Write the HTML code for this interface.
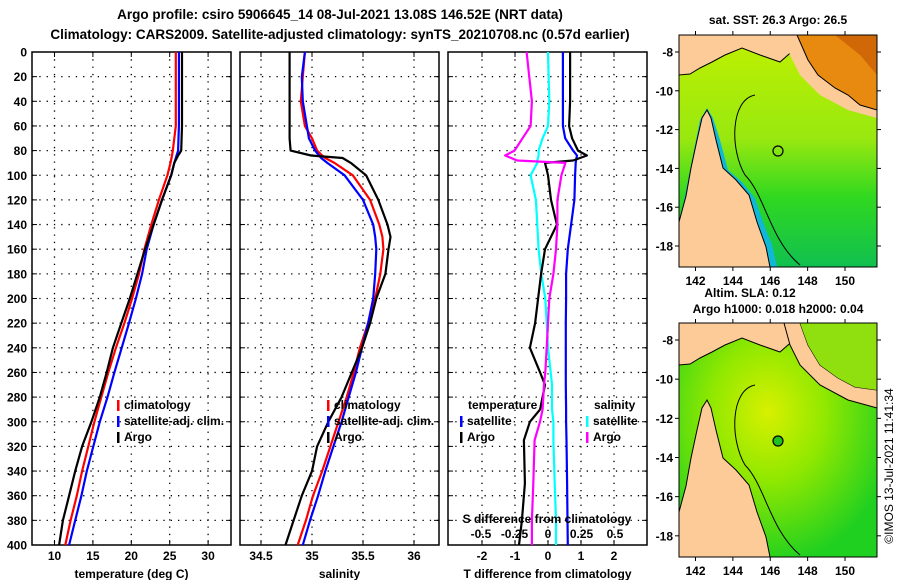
<!DOCTYPE html>
<html><head><meta charset="utf-8"><style>
body{margin:0;background:#fff;width:900px;height:580px;overflow:hidden}
svg{display:block;font-family:"Liberation Sans",sans-serif;font-weight:bold}
</style></head><body>
<svg id="c" width="900" height="580" viewBox="0 0 900 580">
<defs>
<linearGradient id="sstg" x1="0" y1="0" x2="0" y2="1">
<stop offset="0" stop-color="#c0f000"/><stop offset="0.45" stop-color="#98e810"/><stop offset="0.7" stop-color="#30d820"/><stop offset="1" stop-color="#10c050"/></linearGradient>
<radialGradient id="slag" cx="0.45" cy="0.38" r="0.65">
<stop offset="0" stop-color="#d8f000"/><stop offset="0.45" stop-color="#90e800"/><stop offset="1" stop-color="#20d020"/></radialGradient>
</defs>
<text x="340" y="19" font-size="13.5" text-anchor="middle">Argo profile: csiro 5906645_14 08-Jul-2021 13.08S 146.52E (NRT data)</text>
<text x="340" y="39" font-size="13.5" text-anchor="middle">Climatology: CARS2009. Satellite-adjusted climatology: synTS_20210708.nc (0.57d earlier)</text>

<g id="maps">
<g>
<text x="778" y="24" font-size="12" text-anchor="middle">sat. SST: 26.3 Argo: 26.5</text>
<rect x="679" y="35" width="198" height="232" fill="url(#sstg)"/>
<polygon points="679,267 679,225 684,200 690,170 695,145 700,120 707,108 713,118 720,140 728,170 742,182 755,198 763,222 772,245 777,267" fill="#10b8d8"/>
<polygon points="679,267 679,222 686,196 691,168 697,140 702,118 707,110 711,118 716,140 723,168 736,180 749,195 757,222 766,247 770,267" fill="#fdcb98" stroke="#000" stroke-width="1"/>
<polygon points="679,35 790,35 796,48 780,62 760,55 742,48 725,55 712,62 700,68 690,74 679,75" fill="#fdcb98" stroke="#000" stroke-width="1"/>
<polygon points="784,35 877,35 877,118 848,110 820,95 800,75 790,55" fill="#fdcb98"/>
<polygon points="797,35 877,35 877,110 860,105 848,95 835,88 818,75 808,60" fill="#e88a10" stroke="#000" stroke-width="1"/>
<polygon points="835,35 877,35 877,75 860,55" fill="#d06808"/>
<path d="M755,95 C730,100 730,150 745,175 C765,195 770,240 800,265" fill="none" stroke="#000" stroke-width="1"/>
<circle cx="778" cy="151" r="5" fill="none" stroke="#000" stroke-width="1.2"/>
<rect x="679" y="35" width="198" height="232" fill="none" stroke="#000" stroke-width="1"/>
</g>
<g>
<text x="750" y="297" font-size="12" text-anchor="middle">Altim. SLA: 0.12</text>
<text x="778" y="313" font-size="12" text-anchor="middle">Argo h1000: 0.018 h2000: 0.04</text>
<rect x="679" y="323" width="198" height="234" fill="url(#slag)"/>
<g transform="translate(0,290)">
<polygon points="679,267 679,222 686,196 691,168 697,140 702,118 707,110 711,118 716,140 723,168 736,180 749,195 757,222 766,247 770,267" fill="#fdcb98" stroke="#000" stroke-width="1"/>
<polygon points="679,33 790,33 796,48 780,62 760,55 742,48 725,55 712,62 700,68 690,74 679,75" fill="#fdcb98" stroke="#000" stroke-width="1"/>
<polygon points="784,33 800,33 808,55 820,75 838,88 855,97 877,100 877,118 848,110 820,95 800,75 790,55" fill="#fdcb98" stroke="#000" stroke-width="1"/>
<polygon points="800,33 877,33 877,100 855,97 838,88 820,75 808,55" fill="#90e010"/>
<path d="M755,95 C730,100 730,150 745,175 C765,195 770,240 800,265" fill="none" stroke="#000" stroke-width="1"/>
<circle cx="778" cy="151" r="5" fill="#20c020" stroke="#000" stroke-width="1.2"/>
</g>
<rect x="679" y="323" width="198" height="234" fill="none" stroke="#000" stroke-width="1"/>
</g>
<text transform="translate(893,466) rotate(-90)" font-size="12" font-weight="normal" text-anchor="middle">©IMOS 13-Jul-2021 11:41:34</text>
</g>
<g id="plots"></g>
</svg>
<script>
var depthTicks=[0,20,40,60,80,100,120,140,160,180,200,220,240,260,280,300,320,340,360,380,400];
// Temperature panel
var tDepth=[0,60,80,84,90,100,120,140,160,180,200,220,240,260,280,300,320,340,360,380,400];
var tArgo=[26.6,26.6,26.5,26.1,25.6,25.2,24.0,22.9,21.8,20.8,19.8,18.7,17.6,16.8,15.9,14.8,13.6,12.7,11.9,11.1,10.6];
var tClim=[25.8,25.8,25.4,25.3,25.1,24.7,23.6,22.6,21.7,21.0,20.1,19.1,18.0,17.0,16.1,15.2,14.4,13.6,12.9,12.1,11.4];
var tSat=[26.2,26.2,26.1,25.9,25.6,25.2,24.0,22.9,22.0,21.4,20.6,19.7,18.75,17.8,16.9,15.9,15.05,14.2,13.5,12.7,11.9];
var tTicks=[10,15,20,25,30];
// Salinity panel
var sDepth=[0,20,40,60,70,80,84,86,90,100,120,140,150,160,180,200,220,240,260,280,300,320,340,360,380,400];
var sArgo=[34.78,34.78,34.78,34.78,34.78,34.79,34.99,35.30,35.38,35.53,35.65,35.74,35.77,35.75,35.72,35.63,35.57,35.49,35.39,35.29,35.16,35.05,35.0,34.90,34.82,34.74];
var sClim=[34.93,34.91,34.89,34.93,35.0,35.05,35.1,35.13,35.22,35.40,35.57,35.66,35.69,35.70,35.67,35.62,35.55,35.47,35.41,35.34,35.26,35.18,35.10,35.01,34.94,34.86];
var sSat=[34.93,34.90,34.91,34.95,34.97,35.03,35.07,35.09,35.15,35.32,35.50,35.60,35.62,35.63,35.62,35.60,35.55,35.49,35.43,35.36,35.29,35.21,35.13,35.06,34.98,34.91];
var sTicks=[34.5,35,35.5,36];
// Difference panel
var dDepth=[0,40,60,70,80,84,88,90,100,120,140,160,180,200,220,240,260,270,290,300,315,350,380,400];
var dTArgo=[0.67,0.67,0.64,0.73,0.91,1.18,0.76,-0.09,0.0,0.09,0.27,-0.09,-0.21,-0.30,-0.39,-0.55,-0.24,-0.09,-0.24,-0.55,-0.73,-0.70,-0.79,-0.88];
var dTSat=[0.45,0.45,0.45,0.52,0.76,0.88,0.85,0.84,0.82,0.80,0.70,0.60,0.55,0.55,0.54,0.54,0.54,0.54,0.55,0.55,0.56,0.58,0.59,0.60];
var dSArgo=[-0.16,-0.12,-0.13,-0.19,-0.25,-0.32,-0.23,0.13,0.10,0.07,0.07,0.06,0.04,0.01,0.0,-0.01,-0.02,-0.03,-0.04,-0.06,-0.10,-0.11,-0.12,-0.12];
var dSSat=[0.0,0.01,0.0,-0.04,-0.07,-0.07,-0.08,-0.08,-0.13,-0.09,-0.08,-0.07,-0.05,-0.02,-0.01,0.0,0.02,0.03,0.03,0.04,0.04,0.05,0.06,0.06];
var dTTicks=[-2,-1,0,1,2];
var dSTicks=[-0.5,-0.25,0,0.25,0.5];
var dSTickLabels=["-0.5","-0.25","0","0.25","0.5"];

var NS="http://www.w3.org/2000/svg";
var G=document.getElementById('plots');
function el(tag,attrs,parent){var e=document.createElementNS(NS,tag);for(var k in attrs)e.setAttribute(k,attrs[k]);(parent||G).appendChild(e);return e;}
var Y0=52,Y1=545;
function yD(d){return Y0+(Y1-Y0)*d/400;}
function lin(v0,p0,v1,p1){return function(v){return p0+(v-v0)*(p1-p0)/(v1-v0);};}

function panel(name,x0,x1,xs,ticks,labels,xlabel,showY){
  var g=el('g',{});
  
  
  ticks.forEach(function(t,i){
    var x=xs(t);
    var gl=el('line',{x1:x,x2:x,y1:Y0,y2:Y1,stroke:'#000','stroke-width':1.3,'stroke-dasharray':'1.3 6'},g);
    
    
    el('line',{x1:x,x2:x,y1:Y0,y2:Y0+5,stroke:'#000','stroke-width':1},g);
    el('line',{x1:x,x2:x,y1:Y1,y2:Y1-5,stroke:'#000','stroke-width':1},g);
    if(labels){var tl=el('text',{x:x,y:560,'font-size':12,'text-anchor':'middle'},g);tl.textContent=labels[i];
    
    }
  });
  depthTicks.forEach(function(d){
    var y=yD(d);
    if(d>0&&d<400){var gl=el('line',{x1:x0,x2:x1,y1:y,y2:y,stroke:'#000','stroke-width':1.3,'stroke-dasharray':'1.3 6'},g);
    
    }
    el('line',{x1:x0,x2:x0+5,y1:y,y2:y,stroke:'#000','stroke-width':1},g);
    el('line',{x1:x1,x2:x1-5,y1:y,y2:y,stroke:'#000','stroke-width':1},g);
    if(showY){var tl=el('text',{x:27,y:y+4.5,'font-size':12,'text-anchor':'end'},g);tl.textContent=d;
    
    }
  });
  el('rect',{x:x0,y:Y0,width:x1-x0,height:Y1-Y0,fill:'none',stroke:'#000','stroke-width':1.5},g);
  var xl=el('text',{x:(x0+x1)/2,y:578,'font-size':12,'text-anchor':'middle'},g);
  xl.textContent=xlabel;
  
  
  return g;
}
function line(g,name,vals,depths,xs,color){
  var pts=vals.map(function(v,i){return xs(v).toFixed(1)+','+yD(depths[i]).toFixed(1);}).join(' ');
  var p=el('polyline',{points:pts,fill:'none',stroke:color,'stroke-width':2.2,'stroke-linejoin':'round'},g);
  
  
}
function legend(g,x,y,color,label,name){
  el('rect',{x:x,y:y-9,width:2.5,height:11,fill:color},g);
  var t=el('text',{x:x+7,y:y,'font-size':12},g);t.textContent=label;
  
  
}
var xT=lin(10,54.5,30,208.1);
var p1=panel('temperature-panel',32,231,xT,tTicks,["10","15","20","25","30"],'temperature (deg C)',true);
line(p1,'temperature-climatology-line',tClim,tDepth,xT,'#f00');
line(p1,'temperature-satellite-line',tSat,tDepth,xT,'#00f');
line(p1,'temperature-argo-line',tArgo,tDepth,xT,'#000');
legend(p1,117,409,'#f00','climatology','legend-climatology');
legend(p1,117,425,'#00f','satellite-adj. clim.','legend-satellite');
legend(p1,117,441,'#000','Argo','legend-argo');
var xS=lin(34.5,261,36,414);
var p2=panel('salinity-panel',240,439,xS,sTicks,["34.5","35","35.5","36"],'salinity',false);
line(p2,'salinity-climatology-line',sClim,sDepth,xS,'#f00');
line(p2,'salinity-satellite-line',sSat,sDepth,xS,'#00f');
line(p2,'salinity-argo-line',sArgo,sDepth,xS,'#000');
legend(p2,327,409,'#f00','climatology','legend-climatology');
legend(p2,327,425,'#00f','satellite-adj. clim.','legend-satellite');
legend(p2,327,441,'#000','Argo','legend-argo');
var xDT=lin(-2,482,2,614);
var xDS=lin(-0.5,481,0.5,615);
var p3=panel('difference-panel',448,647,xDT,dTTicks,["-2","-1","0","1","2"],'T difference from climatology',false);
line(p3,'salinity-satellite-diff-line',dSSat,dDepth,xDS,'#0ff');
line(p3,'temperature-satellite-diff-line',dTSat,dDepth,xDT,'#00f');
line(p3,'temperature-argo-diff-line',dTArgo,dDepth,xDT,'#000');
line(p3,'salinity-argo-diff-line',dSArgo,dDepth,xDS,'#f0f');
var tt=el('text',{x:468,y:409,'font-size':12},p3);tt.textContent='temperature';


var st=el('text',{x:594,y:409,'font-size':12},p3);st.textContent='salinity';


legend(p3,460,425,'#00f','satellite','legend-t-satellite');
legend(p3,460,441,'#000','Argo','legend-t-argo');
legend(p3,586,425,'#0ff','satellite','legend-s-satellite');
legend(p3,586,441,'#f0f','Argo','legend-s-argo');
var sa=el('text',{x:547,y:523,'font-size':12,'text-anchor':'middle'},p3);sa.textContent='S difference from climatology';


dSTicks.forEach(function(v,i){
  var t=el('text',{x:xDS(v),y:538,'font-size':12,'text-anchor':'middle'},p3);t.textContent=dSTickLabels[i];
  
  
});
var lats=[-8,-10,-12,-14,-16,-18];
var lons=[142,144,146,148,150];
var M=document.getElementById('maps');
function mapTicks(top,h){
  var yl=lin(-8,top+17,-18,top+211*h/232);
  lats.forEach(function(l){
    var y=yl(l);
    el('line',{x1:679,x2:675,y1:y,y2:y,stroke:'#000'},M);
    el('line',{x1:877,x2:881,y1:y,y2:y,stroke:'#000'},M);
    var t=el('text',{x:673,y:y+4.5,'font-size':12,'text-anchor':'end'},M);t.textContent=l;
    
    
  });
  var xl=lin(142,695.5,150,845);
  lons.forEach(function(l){
    var x=xl(l);
    el('line',{x1:x,x2:x,y1:top,y2:top-4,stroke:'#000'},M);
    el('line',{x1:x,x2:x,y1:top+h,y2:top+h+4,stroke:'#000'},M);
    var t=el('text',{x:x,y:top+h+18,'font-size':12,'text-anchor':'middle'},M);t.textContent=l;
    
    
  });
}
mapTicks(35,232);
mapTicks(323,234);
</script>
</body></html>
